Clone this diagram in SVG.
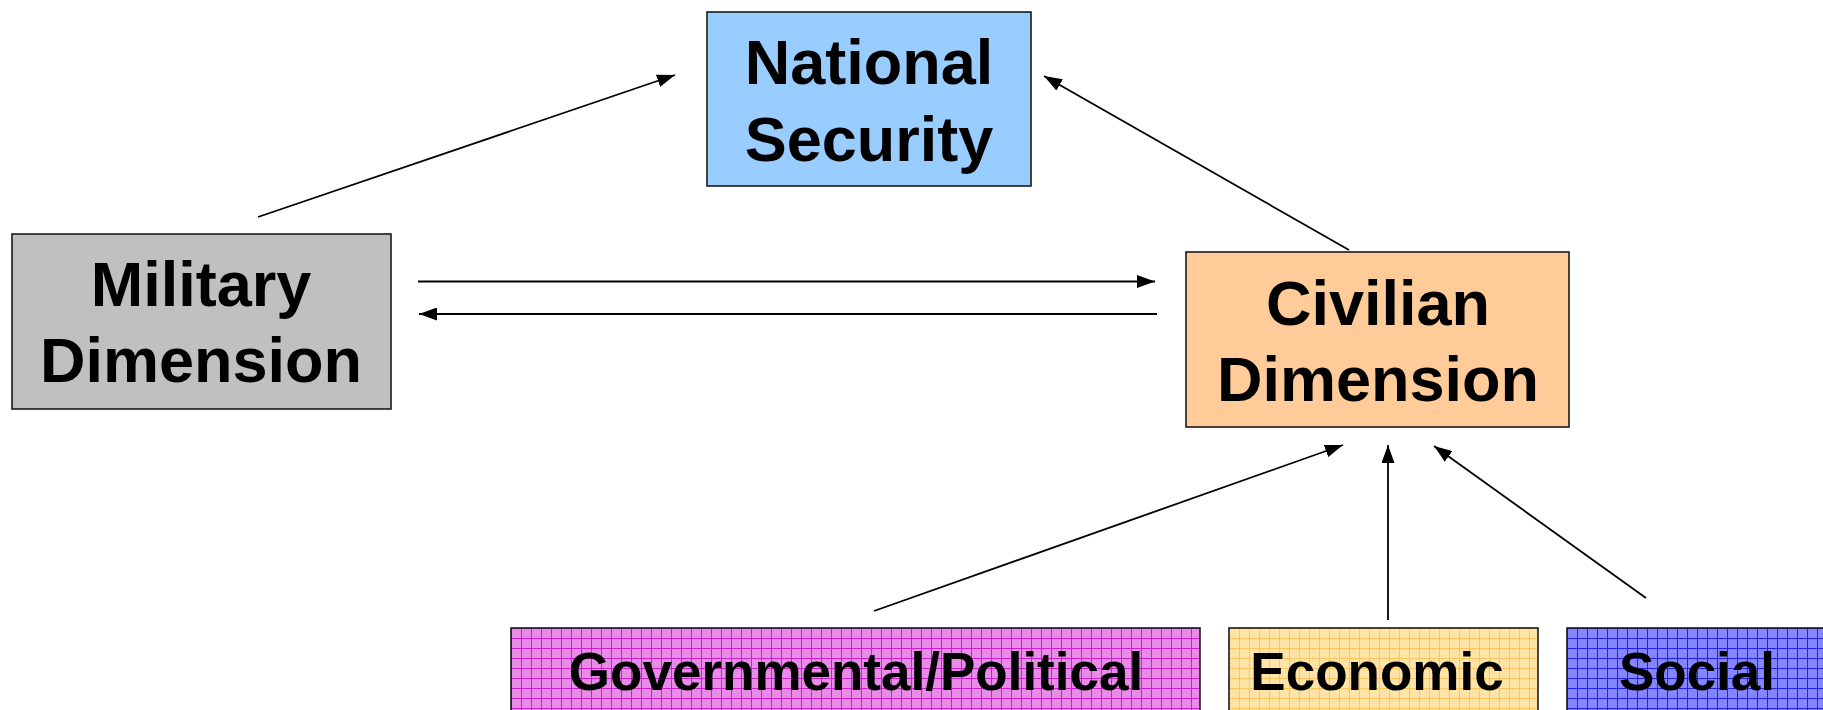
<svg xmlns="http://www.w3.org/2000/svg" width="1823" height="710" viewBox="0 0 1823 710">
<style>
.box{stroke:#1a1a1a;stroke-width:1.6}
.t{font-family:"Liberation Sans",Arial,Helvetica,sans-serif;font-weight:bold;fill:#000;text-anchor:middle}
.big{font-size:63px}
.sm{font-size:53px}
.c{stroke:#000;stroke-width:1.8;fill:none;marker-end:url(#ah)}
</style>
<defs>
<marker id="ah" viewBox="0 0 18 13" markerWidth="18" markerHeight="13" refX="18" refY="6.5" orient="auto" markerUnits="userSpaceOnUse">
<path d="M0,0 L18,6.5 L0,13 z" fill="#000"/>
</marker>
<pattern id="pGov" x="511" y="628" width="10" height="10" patternUnits="userSpaceOnUse">
<rect width="10" height="10" fill="#E88CE8"/>
<path d="M0,0.5 H10 M0.5,0 V10" stroke="#CC1FCC" stroke-width="1"/>
</pattern>
<pattern id="pEco" x="1229" y="628" width="10" height="10" patternUnits="userSpaceOnUse">
<rect width="10" height="10" fill="#FFE4A8"/>
<path d="M0,0.5 H10 M0.5,0 V10" stroke="#FFC45E" stroke-width="1"/>
</pattern>
<pattern id="pSoc" x="1567" y="628" width="10" height="10" patternUnits="userSpaceOnUse">
<rect width="10" height="10" fill="#8585FF"/>
<path d="M0,0.5 H10 M0.5,0 V10" stroke="#2020EE" stroke-width="1"/>
</pattern>
</defs>
<g id="national-security">
<rect class="box" x="707" y="12" width="324" height="174" fill="#99CCFF"/>
<text class="t big" x="869" y="84">National</text>
<text class="t big" x="869" y="161">Security</text>
</g>
<g id="military-dimension">
<rect class="box" x="12" y="234" width="379" height="175" fill="#C0C0C0"/>
<text class="t big" x="201" y="306">Military</text>
<text class="t big" x="201" y="382">Dimension</text>
</g>
<g id="civilian-dimension">
<rect class="box" x="1186" y="252" width="383" height="175" fill="#FFCC99"/>
<text class="t big" x="1378" y="325">Civilian</text>
<text class="t big" x="1378" y="401">Dimension</text>
</g>
<g id="governmental-political">
<rect class="box" x="511" y="628" width="689" height="100" fill="url(#pGov)"/>
<text class="t sm" x="856" y="690">Governmental/Political</text>
</g>
<g id="economic">
<rect class="box" x="1229" y="628" width="309" height="100" fill="url(#pEco)"/>
<text class="t sm" x="1377" y="690">Economic</text>
</g>
<g id="social">
<rect class="box" x="1567" y="628" width="270" height="100" fill="url(#pSoc)"/>
<text class="t sm" x="1697" y="690">Social</text>
</g>
<g id="connectors">
<line class="c" x1="258" y1="217" x2="675" y2="75"/>
<line class="c" x1="1349" y1="250" x2="1044" y2="76"/>
<line class="c" x1="418" y1="281.5" x2="1155" y2="281.5"/>
<line class="c" x1="1157" y1="314" x2="419" y2="314"/>
<line class="c" x1="874" y1="611" x2="1343" y2="445"/>
<line class="c" x1="1388" y1="620" x2="1388" y2="445"/>
<line class="c" x1="1646" y1="598" x2="1434" y2="446"/>
</g>
</svg>
